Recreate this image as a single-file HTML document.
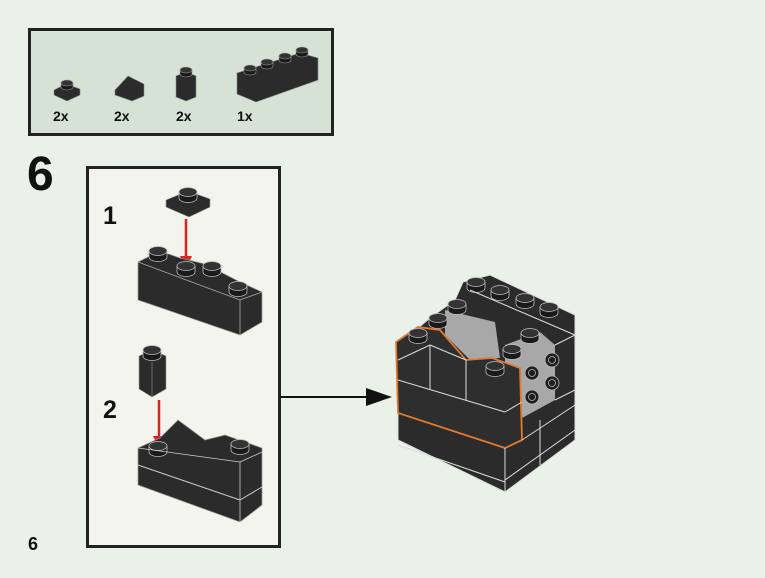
<!DOCTYPE html>
<html><head><style>
html,body{margin:0;padding:0;background:#e9f1e9;}
svg{display:block;font-family:"Liberation Sans",sans-serif;}
</style></head><body>
<svg width="765" height="578" viewBox="0 0 765 578">
<defs>
<g id="st">
<path d="M-9,0 L-9,6 A9,4.5 0 0 0 9,6 L9,0 Z" fill="#1a1a1a" stroke="#bbb" stroke-width="0.8"/>
<ellipse cx="0" cy="0" rx="9" ry="4.5" fill="#333" stroke="#bbb" stroke-width="0.8"/>
</g>
<g id="ss">
<path d="M-6,0 L-6,4 A6,3 0 0 0 6,4 L6,0 Z" fill="#1a1a1a" stroke="#999" stroke-width="0.6"/>
<ellipse cx="0" cy="0" rx="6" ry="3" fill="#333" stroke="#999" stroke-width="0.6"/>
</g>
</defs>
<rect width="765" height="578" fill="#e9f1e9"/>
<!-- parts box -->
<rect x="29.5" y="29.5" width="303" height="105" fill="#d6e2d6" stroke="#222" stroke-width="3"/>
<polygon points="54,90 66,84 80,89 80,95 67,101 54,95" fill="#2b2b2b" stroke="#888" stroke-width="0.6"/>
<use href="#ss" x="67" y="83"/>
<polygon points="115,90 128,76 144,84 144,96 132,101 115,95" fill="#2b2b2b" stroke="#888" stroke-width="0.6"/>
<polygon points="176,76 186,72 196,76 196,97 186,101 176,97" fill="#2b2b2b" stroke="#888" stroke-width="0.6"/>
<use href="#ss" x="186" y="70"/>
<polygon points="237,73 300,53 318,58 318,80 256,102 237,94" fill="#2b2b2b" stroke="#888" stroke-width="0.6"/>
<use href="#ss" x="250" y="68"/><use href="#ss" x="267" y="62"/><use href="#ss" x="285" y="56"/><use href="#ss" x="302" y="50"/>
<g font-size="14" font-weight="bold" fill="#111">
<text x="53" y="121">2x</text><text x="114" y="121">2x</text><text x="176" y="121">2x</text><text x="237" y="121">1x</text>
</g>
<text x="27" y="190" font-size="48" font-weight="bold" fill="#111">6</text>
<text x="28" y="550" font-size="18" font-weight="bold" fill="#111">6</text>
<!-- sub panel -->
<rect x="87.5" y="167.5" width="192" height="379" fill="#f4f4ee" stroke="#222" stroke-width="3"/>
<text x="103" y="224" font-size="25" font-weight="bold" fill="#111">1</text>
<text x="103" y="418" font-size="25" font-weight="bold" fill="#111">2</text>
<!-- step1 plate -->
<polygon points="166,200 188,191 210,199 210,207 189,217 166,207" fill="#2b2b2b" stroke="#999" stroke-width="0.6"/>
<use href="#st" x="188" y="192"/>
<line x1="186" y1="219" x2="186" y2="262" stroke="#d22" stroke-width="2.5"/>
<polygon points="180,256 192,256 186,268" fill="#d22"/>
<!-- step1 brick -->
<polygon points="138,262 160,251 180,258 205,264 240,282 262,292 262,322 240,335 138,300" fill="#2b2b2b" stroke="#999" stroke-width="0.7"/>
<line x1="138" y1="262" x2="240" y2="300" stroke="#aaa" stroke-width="0.8"/>
<line x1="240" y1="300" x2="262" y2="292" stroke="#aaa" stroke-width="0.8"/>
<line x1="240" y1="300" x2="240" y2="335" stroke="#aaa" stroke-width="0.8"/>
<use href="#st" x="158" y="251"/>
<use href="#st" x="186" y="266"/>
<use href="#st" x="212" y="266"/>
<use href="#st" x="238" y="286"/>
<!-- step2 brick -->
<polygon points="139,356 152,350 166,356 166,389 152,397 139,389" fill="#2b2b2b" stroke="#999" stroke-width="0.6"/>
<line x1="152" y1="362" x2="152" y2="397" stroke="#999" stroke-width="0.6"/>
<use href="#st" x="152" y="350"/>
<line x1="159" y1="400" x2="159" y2="440" stroke="#d22" stroke-width="2.5"/>
<polygon points="153,436 165,436 159,448" fill="#d22"/>
<polygon points="138,448 160,438 178,420 205,440 225,435 262,448 262,505 240,522 138,485" fill="#2b2b2b" stroke="#999" stroke-width="0.7"/>
<use href="#st" x="158" y="446"/>
<use href="#st" x="240" y="444"/>
<line x1="138" y1="448" x2="240" y2="462" stroke="#ccc" stroke-width="0.8"/>
<line x1="240" y1="462" x2="262" y2="452" stroke="#ccc" stroke-width="0.8"/>
<line x1="240" y1="462" x2="240" y2="522" stroke="#ccc" stroke-width="0.8"/>
<line x1="138" y1="465" x2="240" y2="500" stroke="#ccc" stroke-width="1"/>
<line x1="240" y1="500" x2="262" y2="487" stroke="#ccc" stroke-width="1"/>
<!-- arrow -->
<line x1="280" y1="397" x2="372" y2="397" stroke="#111" stroke-width="2"/>
<polygon points="366,388 392,397 366,406" fill="#111"/>
<!-- main model -->
<polygon points="398,345 430,318 455,300 463,282 490,275 575,315 575,440 505,492 398,440" fill="#2b2b2b" stroke="#ddd" stroke-width="1"/>
<polygon points="445,310 495,322 500,358 470,360 445,335" fill="#a8a8a8"/>
<polygon points="505,345 540,332 555,345 555,400 522,418 505,400" fill="#a8a8a8"/>
<use href="#st" x="476" y="282"/><use href="#st" x="500" y="290"/><use href="#st" x="525" y="298"/><use href="#st" x="549" y="307"/>
<use href="#st" x="457" y="304"/><use href="#st" x="438" y="318"/>
<use href="#st" x="530" y="333"/><use href="#st" x="512" y="349"/>
<g fill="#1e1e1e" stroke="#bbb" stroke-width="0.8">
<circle cx="552" cy="360" r="7"/><circle cx="532" cy="373" r="7"/><circle cx="552" cy="383" r="7"/><circle cx="532" cy="397" r="7"/>
<circle cx="552" cy="360" r="3.5"/><circle cx="532" cy="373" r="3.5"/><circle cx="552" cy="383" r="3.5"/><circle cx="532" cy="397" r="3.5"/>
</g>
<polygon points="396,342 418,327 440,330 466,360 492,358 520,368 522,440 505,448 398,413" fill="#2e2e2e" stroke="#e07a30" stroke-width="1.8"/>
<use href="#st" x="418" y="333"/>
<use href="#st" x="495" y="366"/>
<g stroke="#ddd" stroke-width="1" fill="none">
<line x1="398" y1="360" x2="430" y2="345"/><line x1="430" y1="345" x2="466" y2="360"/>
<line x1="398" y1="380" x2="505" y2="412"/><line x1="505" y1="412" x2="522" y2="402"/>
<line x1="430" y1="345" x2="430" y2="390"/><line x1="466" y1="360" x2="466" y2="400"/>
<line x1="398" y1="445" x2="505" y2="482"/>
<line x1="522" y1="440" x2="575" y2="405"/><line x1="505" y1="480" x2="575" y2="430"/>
<line x1="505" y1="448" x2="505" y2="492"/><line x1="540" y1="420" x2="540" y2="465"/>
<line x1="470" y1="290" x2="575" y2="335"/>
<line x1="555" y1="345" x2="575" y2="335"/>
<line x1="555" y1="400" x2="575" y2="390"/>
</g>
</svg>
</body></html>
